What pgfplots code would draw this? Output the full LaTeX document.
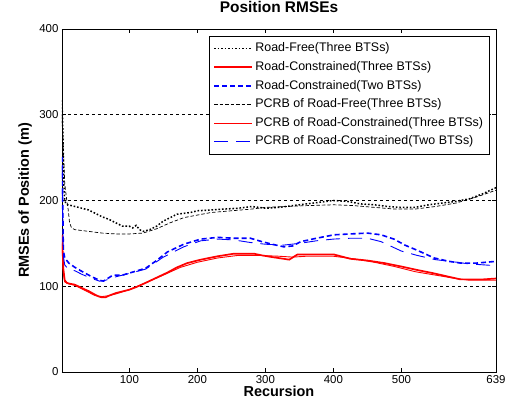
\documentclass[border=0pt]{standalone}
\usepackage{fontspec}
\setmainfont{Liberation Sans}
\usepackage{pgfplots}
\pgfplotsset{compat=1.18}
\begin{document}
\begin{tikzpicture}
\begin{axis}[
  name=ax,
  scale only axis,
  width=434bp, height=343bp,
  xmin=1, xmax=639, ymin=0, ymax=400,
  xtick={100,200,300,400,500,639},
  ytick={0,100,200,300,400},
  tick align=inside,
  major tick length=4bp,
  axis line style={line width=0.8bp},
  every tick/.style={black, line width=0.6bp},
  ymajorgrids,
  grid style={black, line width=0.6bp, dash pattern=on 3bp off 3bp},
  /pgf/number format/assume math mode=true,
  ticklabel style={font=\fontsize{11.5}{13}\selectfont},
  title={Position RMSEs},
  title style={font=\fontsize{15.5}{17}\selectfont\bfseries, at={(axis description cs:0.5,1)}, anchor=base, yshift=11bp},
  xlabel={Recursion},
  xlabel style={font=\fontsize{14.5}{16}\selectfont\bfseries, at={(axis description cs:0.5,0)}, anchor=base, yshift=-25bp},
  ylabel={RMSEs of Position (m)},
  every axis y label/.style={at={(axis description cs:0,0.5)}, rotate=90, anchor=base, yshift=33bp, font=\fontsize{14.5}{16}\selectfont\bfseries},
  legend cell align=left,
  legend image code/.code={\draw[#1] (0bp,0bp) -- (38bp,0bp);},
  legend style={at={(rel axis cs:1,1)}, anchor=north east, xshift=-6bp, yshift=-7bp,
    draw=black, line width=0.8bp, font=\fontsize{12.5}{14}\selectfont,
    nodes={text height=9bp, text depth=2.6bp, inner sep=2.5bp},
    row sep=2bp, inner sep=4bp},
]
% Road-Free (Three BTSs)
\addplot[black, line width=1.5bp, dash pattern=on 1.6bp off 1.9bp] coordinates {
(1,317) (2,290) (3,250) (4,215) (5,200) (7,196) (10,195) (15,194) (20,193) (30,191) (40,189) (50,185) (60,181) (70,178) (80,174) (90,170) (100,170) (105,168) (110,171) (115,166) (120,164) (125,165) (130,166) (140,170) (150,176) (160,180) (170,184) (180,185) (190,186) (200,188) (220,189) (240,190) (260,191) (280,193) (300,191) (320,192) (340,194) (360,196) (380,198) (400,200) (420,199) (440,196) (460,195) (480,193) (500,192) (520,192) (540,195) (560,197) (580,199) (600,202) (620,208) (639,215)
};
\addlegendentry{Road-Free(Three BTSs)}
% Road-Constrained (Three BTSs)
\addplot[draw=red, line width=1.7bp] coordinates {
(1,160) (2,140) (3,120) (5,107) (8,104) (12,103) (19,102) (25,100) (30,98) (41,94) (50,90) (55,88) (60,87) (65,87) (70,89) (80,92) (90,94) (100,96) (110,99) (124,104) (140,110) (156,116) (170,122) (185,127) (205,131) (230,135) (254,138) (270,138) (283,138) (295,136) (310,134) (327,132) (335,131) (347,137) (360,137) (380,137) (401,137) (425,132) (450,130) (475,127) (500,123) (523,119) (548,115) (570,111) (587,108) (600,108) (620,108) (639,109)
};
\addlegendentry{Road-Constrained(Three BTSs)}
% Road-Constrained (Two BTSs)
\addplot[draw=blue, line width=1.6bp, dash pattern=on 5bp off 3bp] coordinates {
(1,251) (2,200) (3,142) (5,133) (11,127) (20,122) (31,117) (45,111) (56,107) (62,106) (70,110) (76,113) (90,113) (107,117) (124,121) (140,130) (156,140) (180,149) (205,155) (230,157) (254,156) (278,156) (295,152) (310,149) (327,146) (340,147) (352,152) (375,156) (401,160) (425,161) (450,162) (470,160) (489,155) (505,148) (523,142) (548,133) (570,129) (587,127) (610,127) (639,129)
};
\addlegendentry{Road-Constrained(Two BTSs)}
% PCRB Road-Free
\addplot[draw=black, line width=0.7bp, dash pattern=on 3.5bp off 2bp] coordinates {
(1,300) (3,260) (5,220) (8,200) (10,190) (12,175) (15,168) (20,166) (30,165) (40,164) (60,162) (80,161) (100,161) (120,162) (140,167) (160,174) (180,180) (200,183) (220,186) (250,188) (280,190) (300,192) (330,193) (360,194) (400,195) (430,194) (460,192) (490,190) (520,190) (550,193) (580,197) (610,204) (639,212)
};
\addlegendentry{PCRB of Road-Free(Three BTSs)}
% PCRB Road-Constrained (Three)
\addplot[draw=red, line width=0.9bp] coordinates {
(1,150) (3,115) (5,105) (10,103) (20,101) (30,97) (40,93) (50,89) (60,88) (70,89) (80,91) (100,96) (124,104) (150,113) (175,122) (200,128) (230,133) (260,136) (290,136) (320,135) (340,134) (360,135) (400,135) (430,132) (460,128) (490,123) (520,117) (550,113) (580,109) (600,107) (620,107) (639,107)
};
\addlegendentry{PCRB of Road-Constrained(Three BTSs)}
% PCRB Road-Constrained (Two)
\addplot[draw=blue, line width=0.9bp, dash pattern=on 14bp off 8bp] coordinates {
(1,240) (3,135) (5,125) (10,120) (20,118) (30,114) (45,109) (56,106) (65,107) (80,111) (100,115) (124,120) (150,134) (180,146) (205,153) (230,155) (254,154) (278,151) (300,149) (327,148) (350,150) (375,153) (400,155) (425,156) (450,156) (470,152) (500,141) (523,136) (550,131) (572,129) (600,126) (639,124)
};
\addlegendentry{PCRB of Road-Constrained(Two BTSs)}
\end{axis}
\pgfresetboundingbox
\useasboundingbox ([shift={(-62bp,-37bp)}]ax.south west) rectangle ([shift={(446bp,372bp)}]ax.south west);
\end{tikzpicture}
\end{document}
